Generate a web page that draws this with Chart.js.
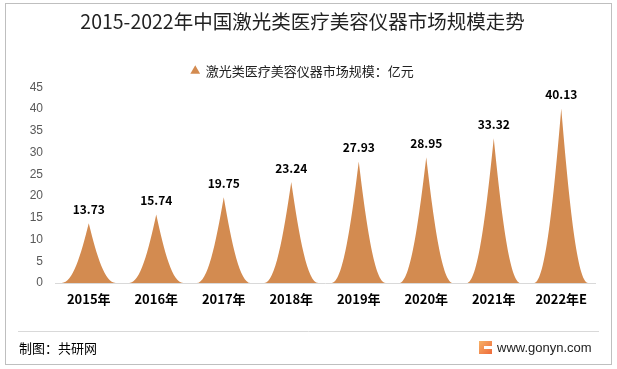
<!DOCTYPE html>
<html>
<head>
<meta charset="utf-8">
<script src="https://cdn.jsdelivr.net/npm/chart.js@4"></script>
<style>
  html, body { margin: 0; padding: 0; background: #fff; }
  #wrap { position: relative; width: 617px; height: 369px; }
</style>
</head>
<body>
<div id="wrap"><canvas id="myChart"></canvas></div>
<script>
const years = ['2015年', '2016年', '2017年', '2018年', '2019年', '2020年', '2021年', '2022年E']
const marketSize = [13.73, 15.74, 19.75, 23.24, 27.93, 28.95, 33.32, 40.13]
const yTicks = [0, 5, 10, 15, 20, 25, 30, 35, 40, 45]

const spikeColor = '#D38B50'
const cjkFont = '"Noto Sans CJK SC", "Noto Sans", sans-serif'

// draw each bar as a pointed spike with concave sides
const spikePlugin = {
  id: 'spikes',
  beforeDatasetDraw(chart, args) {
    const ctx = chart.ctx
    const meta = args.meta
    ctx.save()
    ctx.fillStyle = spikeColor
    meta.data.forEach(bar => {
      const w = bar.width
      const h = bar.base - bar.y
      const left = bar.x - w / 2
      const right = bar.x + w / 2
      ctx.beginPath()
      ctx.moveTo(left, bar.base)
      ctx.bezierCurveTo(left + w * 0.2, bar.base, bar.x - w * 0.15, bar.base - h * 0.45, bar.x, bar.y)
      ctx.bezierCurveTo(bar.x + w * 0.15, bar.base - h * 0.45, right - w * 0.2, bar.base, right, bar.base)
      ctx.closePath()
      ctx.fill()
    })
    ctx.restore()
    return false
  },
  afterDatasetsDraw(chart) {
    const ctx = chart.ctx
    const meta = chart.getDatasetMeta(0)
    ctx.save()
    ctx.fillStyle = '#000'
    ctx.font = 'bold 12px ' + cjkFont
    ctx.textAlign = 'center'
    ctx.textBaseline = 'middle'
    meta.data.forEach((bar, i) => {
      ctx.fillText(marketSize[i].toFixed(2), bar.x, bar.y - 14)
    })
    ctx.restore()
  }
}

// frame, footer line, source and site
const framePlugin = {
  id: 'frame',
  afterDraw(chart) {
    const ctx = chart.ctx
    ctx.save()
    ctx.strokeStyle = '#BFBFBF'
    ctx.lineWidth = 1
    ctx.strokeRect(5.5, 3.5, 606, 361)
    ctx.strokeStyle = '#D9D9D9'
    ctx.beginPath()
    ctx.moveTo(18, 331.5)
    ctx.lineTo(599, 331.5)
    ctx.stroke()

    ctx.fillStyle = '#000'
    ctx.font = '13px ' + cjkFont
    ctx.textBaseline = 'middle'
    ctx.textAlign = 'left'
    ctx.fillText('制图：共研网', 19, 348)

    var g = ctx.createLinearGradient(479, 341, 492, 354)
    g.addColorStop(0, '#F7B267')
    g.addColorStop(1, '#EE6A3A')
    ctx.fillStyle = g
    ctx.fillRect(479, 341, 13, 13)
    ctx.fillStyle = '#fff'
    ctx.fillRect(484, 346, 8, 3)

    ctx.fillStyle = '#222'
    ctx.font = '13px "Liberation Sans", Arial, sans-serif'
    ctx.fillText('www.gonyn.com', 497, 348)
    ctx.restore()
  }
}

const ctx = document.getElementById('myChart')
ctx.width = 617
ctx.height = 369

new Chart(ctx, {
  type: 'bar',
  data: {
    labels: years,
    datasets: [{
      label: '激光类医疗美容仪器市场规模：亿元',
      data: marketSize,
      backgroundColor: spikeColor,
      borderWidth: 0,
      barPercentage: 0.8,
      categoryPercentage: 1,
      pointStyle: 'triangle'
    }]
  },
  options: {
    responsive: false,
    animation: false,
    devicePixelRatio: 1,
    layout: { padding: { top: 0, left: 10, right: 22, bottom: 56 } },
    plugins: {
      title: {
        display: true,
        text: '2015-2022年中国激光类医疗美容仪器市场规模走势',
        color: '#222',
        font: { family: cjkFont, size: 19.5, weight: 'normal' },
        padding: { top: 10, bottom: 19 }
      },
      legend: {
        display: true,
        labels: {
          usePointStyle: true,
          boxWidth: 8,
          boxHeight: 8,
          color: '#222',
          font: { family: cjkFont, size: 13 },
          padding: 12
        }
      },
      tooltip: { enabled: false }
    },
    scales: {
      x: {
        grid: { display: false, drawTicks: false },
        border: { display: true, color: '#D9D9D9' },
        ticks: { color: '#000', font: { family: cjkFont, size: 13, weight: 'bold' }, padding: 8 },
        afterFit(scale) { scale.height = 30 }
      },
      y: {
        min: 0,
        max: 45,
        afterBuildTicks(scale) { scale.ticks = yTicks.map(v => ({ value: v })) },
        grid: { display: false, drawTicks: false },
        border: { display: false },
        ticks: { color: '#595959', font: { family: '"Liberation Sans", Arial, sans-serif', size: 12 }, padding: 12 },
        afterFit(scale) { scale.width = 45 }
      }
    }
  },
  plugins: [spikePlugin, framePlugin]
})
</script>
</body>
</html>
